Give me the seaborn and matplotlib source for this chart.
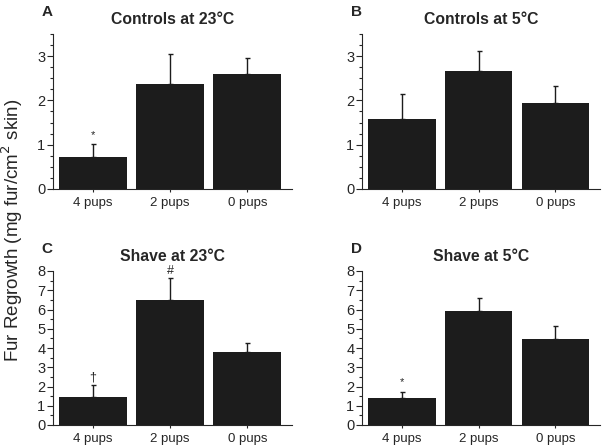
import numpy as np
import pandas as pd
import matplotlib
matplotlib.use("Agg")
import matplotlib.pyplot as plt
from matplotlib.ticker import MultipleLocator
import seaborn as sns

groups = ["4 pups", "2 pups", "0 pups"]

ctrl23_mean = [0.72, 2.38, 2.59]
ctrl23_err = [0.30, 0.67, 0.36]
ctrl5_mean = [1.59, 2.66, 1.94]
ctrl5_err = [0.55, 0.45, 0.38]
shave23_mean = [1.43, 6.51, 3.80]
shave23_err = [0.63, 1.12, 0.48]
shave5_mean = [1.42, 5.94, 4.49]
shave5_err = [0.32, 0.66, 0.67]

ctrl23_marks = ["*", "", ""]
ctrl5_marks = ["", "", ""]
shave23_marks = ["\u2020", "#", ""]
shave5_marks = ["*", "", ""]

panels = [
    ("A", "Controls at 23\u00b0C", ctrl23_mean, ctrl23_err, ctrl23_marks, 3.5, 1, 0.25),
    ("B", "Controls at 5\u00b0C", ctrl5_mean, ctrl5_err, ctrl5_marks, 3.5, 1, 0.25),
    ("C", "Shave at 23\u00b0C", shave23_mean, shave23_err, shave23_marks, 8, 1, 0.5),
    ("D", "Shave at 5\u00b0C", shave5_mean, shave5_err, shave5_marks, 8, 1, 0.5),
]

sns.set_style("ticks")
plt.rcParams["font.family"] = ["Liberation Sans", "DejaVu Sans"]

fig = plt.figure(figsize=(6.03, 4.47), dpi=100)
W, H = 603, 447
boxes = [(53, 34, 292, 189), (362, 34, 600, 189),
         (53, 271, 292, 425), (362, 271, 600, 425)]

bar_color = "#1c1c1c"

for (letter, title, mean, err, marks, ymax, major, minor), (x0, y0, x1, y1) in zip(panels, boxes):
    ax = fig.add_axes([x0 / W, 1 - y1 / H, (x1 - x0) / W, (y1 - y0) / H])
    df = pd.DataFrame({"group": groups, "value": mean, "err": err, "mark": marks})
    sns.barplot(data=df, x="group", y="value", color=bar_color, saturation=1,
                width=0.88, errorbar=None, ax=ax, edgecolor=bar_color, linewidth=0)
    x = np.arange(len(groups))
    ax.errorbar(x, df["value"], yerr=[np.zeros(len(x)), df["err"]], fmt="none",
                ecolor=bar_color, elinewidth=1.0, capsize=1.8, capthick=1.0)
    tops = df["value"] + df["err"]
    for xi, t, m in zip(x, tops, df["mark"]):
        if m:
            ax.annotate(m, (xi, t), xytext=(0, 3 if m == "*" else 1), textcoords="offset points",
                        ha="center", va="bottom", fontsize=9 if m != "*" else 8, clip_on=False)
    ax.set_ylim(0, ymax)
    ax.set_xlim(-0.52, 2.58)
    ax.yaxis.set_major_locator(MultipleLocator(major))
    ax.yaxis.set_minor_locator(MultipleLocator(minor))
    ax.tick_params(axis="y", which="major", length=4, width=0.8, labelsize=10.5, pad=1.5)
    ax.tick_params(axis="y", which="minor", length=2.5, width=0.8)
    ax.tick_params(axis="x", length=2.5, width=0.8, labelsize=9.5, pad=3)
    ax.set_xlabel("")
    ax.set_ylabel("")
    sns.despine(ax=ax)
    for s in ("left", "bottom"):
        ax.spines[s].set_linewidth(0.8)
    ax.set_title(title, fontsize=11.3, fontweight="bold", pad=7)
    fig.text((x0 - 6) / W, 1 - (y0 - 22) / H, letter, fontsize=11, fontweight="bold",
             ha="center", va="center")

fig.text(12 / W, 1 - 230 / H, "Fur Regrowth (mg fur/cm$^2$ skin)", rotation=90,
         ha="center", va="center", fontsize=13.5)

fig.savefig("out.png", dpi=100)
